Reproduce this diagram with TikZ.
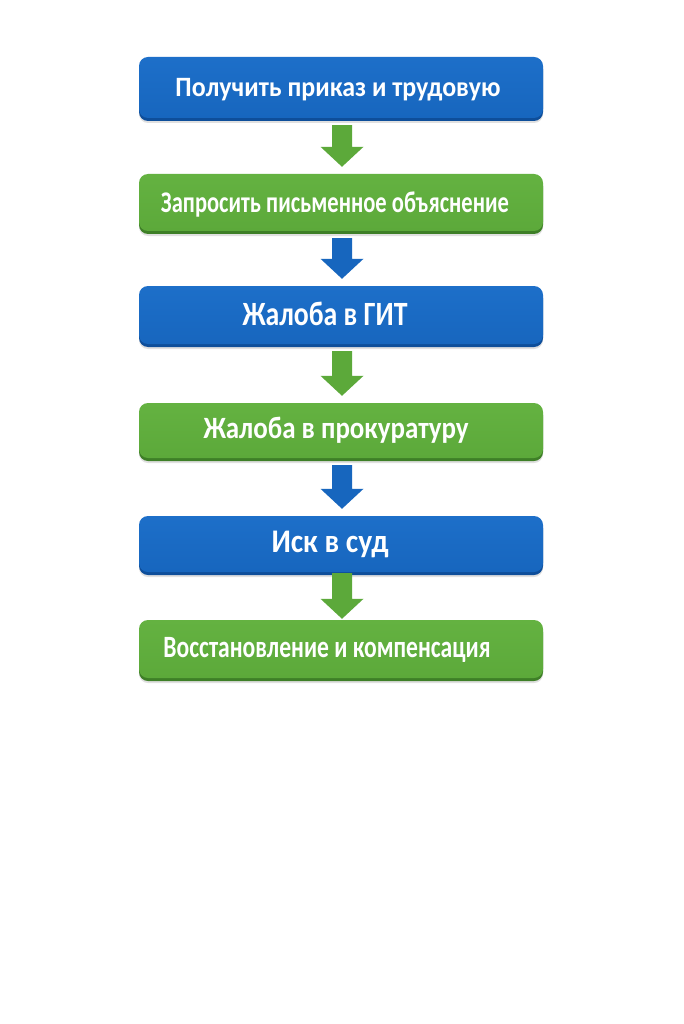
\documentclass[tikz,border=0pt]{standalone}
\usepackage{fontspec}
\usepackage{graphicx}
\setmainfont{Carlito}
\usetikzlibrary{calc}
\definecolor{bluemain}{HTML}{1766BE}
\definecolor{bluetop}{HTML}{1D6FC9}
\definecolor{bluedark}{HTML}{0E4E9A}
\definecolor{greenmain}{HTML}{5CA93A}
\definecolor{greentop}{HTML}{64B241}
\definecolor{greendark}{HTML}{3E7F27}
\tikzset{
  box/.style={rectangle, rounded corners=9pt, minimum width=404pt, inner sep=0pt},
  bluebox/.style={box, top color=bluetop, bottom color=bluemain,
    preaction={fill=black!12, transform canvas={yshift=-5pt}},
    preaction={fill=bluedark, transform canvas={yshift=-3pt}}},
  greenbox/.style={box, top color=greentop, bottom color=greenmain,
    preaction={fill=black!12, transform canvas={yshift=-5pt}},
    preaction={fill=greendark, transform canvas={yshift=-3pt}}},
  label/.style={anchor=base, text=white, font=\bfseries, inner sep=0pt}
}
\newcommand\farrow[4]{%
  \fill[#1] let \p1=($(#2.south)+(1pt,-#4)$), \p2=($(#3.north)+(0,#4)$) in
    (\x1-10pt,\y1) -- (\x1+10pt,\y1) -- (\x1+10pt,\y2+20pt) -- (\x1+21.5pt,\y2+20pt)
    -- (\x1,\y2) -- (\x1-21.5pt,\y2+20pt) -- (\x1-10pt,\y2+20pt) -- cycle;}
\begin{document}
\begin{tikzpicture}[x=1pt,y=-1pt]
\useasboundingbox (0,0) rectangle (683,1024);
\fill[white] (0,0) rectangle (683,1024);

\node[bluebox, minimum height=61pt] (b1) at (341,87.5) {};
\node[greenbox, minimum height=57pt] (b2) at (341,202.5) {};
\node[bluebox, minimum height=58pt] (b3) at (341,315) {};
\node[greenbox, minimum height=55pt] (b4) at (341,430.5) {};
\node[bluebox, minimum height=56pt] (b5) at (341,544) {};
\node[greenbox, minimum height=58pt] (b6) at (341,649) {};

\node[label, font=\bfseries\fontsize{28}{30}\selectfont] (t1) at (338,97) {\resizebox{325pt}{\height}{Получить приказ и трудовую}};
\node[label, font=\bfseries\fontsize{30}{32}\selectfont] (t2) at (335,212) {\resizebox{348pt}{\height}{Запросить письменное объяснение}};
\node[label, font=\bfseries\fontsize{34}{36}\selectfont] (t3) at (325,325) {\resizebox{165pt}{\height}{Жалоба в ГИТ}};
\node[label, font=\bfseries\fontsize{31}{33}\selectfont] (t4) at (336,438) {\resizebox{265pt}{\height}{Жалоба в прокуратуру}};
\node[label, font=\bfseries\fontsize{33}{35}\selectfont] (t5) at (330,552) {\resizebox{117pt}{\height}{Иск в суд}};
\node[label, font=\bfseries\fontsize{31}{33}\selectfont] (t6) at (327,657) {\resizebox{327pt}{\height}{Восстановление и компенсация}};

\farrow{greenmain}{b1}{b2}{7pt}
\farrow{bluemain}{b2}{b3}{7pt}
\farrow{greenmain}{b3}{b4}{7pt}
\farrow{bluemain}{b4}{b5}{7pt}
\farrow{greenmain}{b5}{b6}{1pt}
\end{tikzpicture}
\end{document}
